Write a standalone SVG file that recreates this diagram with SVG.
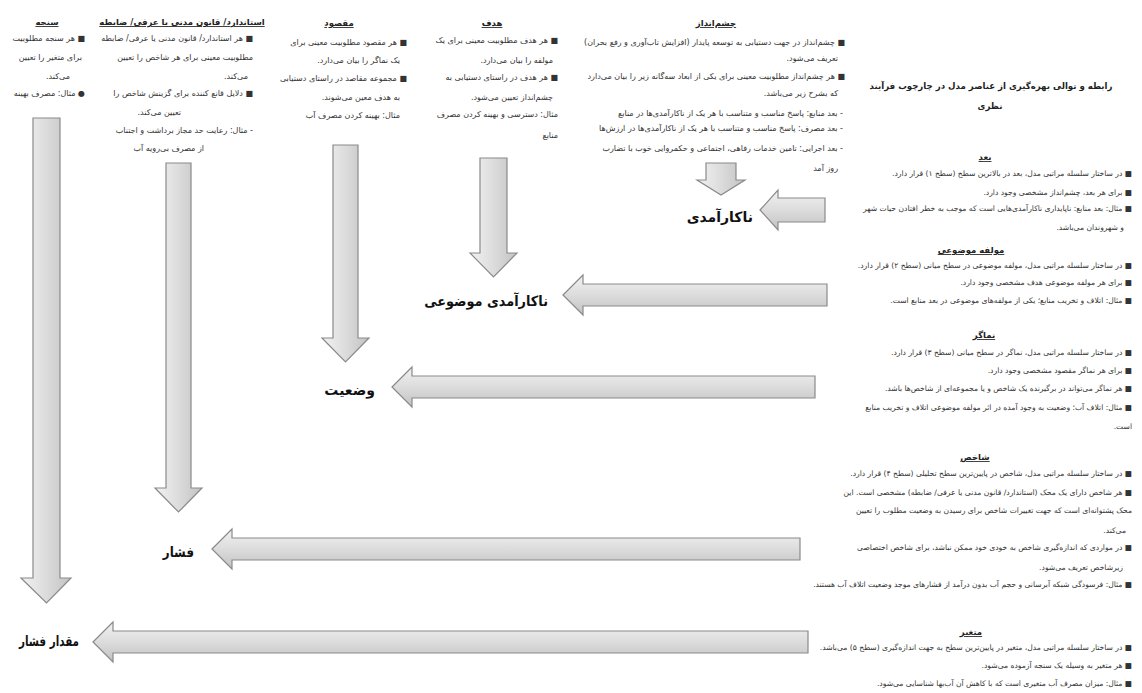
<svg xmlns="http://www.w3.org/2000/svg" width="1142" height="693" viewBox="0 0 1142 693">
<defs>
<linearGradient id="gh" x1="0" y1="0" x2="0" y2="1">
<stop offset="0" stop-color="#f2f2f2"/><stop offset="0.5" stop-color="#dcdcdc"/><stop offset="1" stop-color="#c2c2c2"/>
</linearGradient>
<linearGradient id="gv" x1="0" y1="0" x2="1" y2="0">
<stop offset="0" stop-color="#f2f2f2"/><stop offset="0.5" stop-color="#dcdcdc"/><stop offset="1" stop-color="#c2c2c2"/>
</linearGradient>
<style>
.t{font-family:"DejaVu Sans","Noto Sans",sans-serif;font-size:7.6px;fill:#333;direction:rtl;text-anchor:start}
.tc{font-family:"DejaVu Sans","Noto Sans",sans-serif;font-size:8px;fill:#333;direction:rtl;text-anchor:start}
.h{font-family:"DejaVu Sans","Noto Sans",sans-serif;font-size:8.5px;font-weight:bold;fill:#222;direction:rtl;text-anchor:middle;text-decoration:underline}
.ttl{font-family:"DejaVu Sans","Noto Sans",sans-serif;font-size:8.6px;font-weight:bold;fill:#222;direction:rtl;text-anchor:middle}
.lb{font-family:"DejaVu Sans","Noto Sans",sans-serif;font-size:14px;font-weight:bold;fill:#111;direction:rtl;text-anchor:start}
.ah{fill:url(#gh);stroke:#8a8a8a;stroke-width:1.2}
.av{fill:url(#gv);stroke:#8a8a8a;stroke-width:1.2}
</style>
</defs>
<rect width="1142" height="693" fill="#ffffff"/>

<g id="connectors">
<path class="av" d="M706 163 L736 163 L736 180 L745 180 L721 195 L697 180 L706 180 Z"/>
<path class="av" d="M480 158 L507 158 L507 253 L517 253 L493.5 277 L470 253 L480 253 Z"/>
<path class="av" d="M333 145 L358 145 L358 338 L369 338 L345.5 362 L322 338 L333 338 Z"/>
<path class="av" d="M166 163 L191 163 L191 488 L202 488 L178.5 512 L155 488 L166 488 Z"/>
<path class="av" d="M33 118 L60 118 L60 578 L71 578 L46.5 603 L21 578 L33 578 Z"/>
<path class="ah" d="M760 210 L778 190 L778 198 L825 198 L825 222 L778 222 L778 230 Z"/>
<path class="ah" d="M563 295 L583 275 L583 284 L827 284 L827 306 L583 306 L583 315 Z"/>
<path class="ah" d="M392 387 L412 367 L412 376 L815 376 L815 398 L412 398 L412 407 Z"/>
<path class="ah" d="M212 549 L232 529 L232 538 L800 538 L800 560 L232 560 L232 569 Z"/>
<path class="ah" d="M93 642 L113 622 L113 631 L808 631 L808 653 L113 653 L113 662 Z"/>
</g>

<g id="label-nakaramadi"><text class="lb" x="753" y="222">ناکارآمدی</text></g>
<g id="label-nakaramadi-mozui"><text class="lb" transform="translate(548,306) scale(0.92,1)" x="0" y="0">ناکارآمدی موضوعی</text></g>
<g id="label-vazeiat"><text class="lb" x="375" y="395">وضعیت</text></g>
<g id="label-feshar"><text class="lb" transform="translate(194,557) scale(0.85,1)" x="0" y="0">فشار</text></g>
<g id="label-meghdar-feshar"><text class="lb" transform="translate(79,646) scale(0.74,1)" x="0" y="0">مقدار فشار</text></g>

<g id="col-cheshmandaz">
<text class="h" x="716" y="26">چشم‌انداز</text>
<text class="tc" x="845" y="45">■ چشم‌انداز در جهت دستیابی به توسعه پایدار (افزایش تاب‌آوری و رفع بحران)</text>
<text class="tc" x="838" y="61">تعریف می‌شود.</text>
<text class="tc" x="845" y="79">■ هر چشم‌انداز مطلوبیت معینی برای یکی از ابعاد سه‌گانه زیر را بیان می‌دارد</text>
<text class="tc" x="838" y="96">که بشرح زیر می‌باشد.</text>
<text class="tc" x="843" y="116">- بعد منابع: پاسخ مناسب و متناسب با هر یک از ناکارآمدی‌ها در منابع</text>
<text class="tc" x="843" y="131">- بعد مصرف: پاسخ مناسب و متناسب با هر یک از ناکارآمدی‌ها در ارزش‌ها</text>
<text class="tc" x="843" y="151">- بعد اجرایی: تامین خدمات رفاهی، اجتماعی و حکمروایی خوب با تضارب</text>
<text class="tc" x="838" y="171">روز آمد</text>
</g>

<g id="col-hadaf">
<text class="h" x="492" y="26">هدف</text>
<text class="tc" x="558" y="43">■ هر هدف مطلوبیت معینی برای یک</text>
<text class="tc" x="553" y="63">مولفه را بیان می‌دارد.</text>
<text class="tc" x="558" y="80">■ هر هدف در راستای دستیابی به</text>
<text class="tc" x="553" y="100">چشم‌انداز تعیین می‌شود.</text>
<text class="tc" x="558" y="117">مثال: دسترسی و بهینه کردن مصرف</text>
<text class="tc" x="558" y="138">منابع</text>
</g>

<g id="col-maghsud">
<text class="h" x="339" y="26">مقصود</text>
<text class="tc" x="407" y="45">■ هر مقصود مطلوبیت معینی برای</text>
<text class="tc" x="400" y="63">یک نماگر را بیان می‌دارد.</text>
<text class="tc" x="407" y="81">■ مجموعه مقاصد در راستای دستیابی</text>
<text class="tc" x="400" y="100">به هدف معین می‌شوند.</text>
<text class="tc" x="400" y="118">مثال: بهینه کردن مصرف آب</text>
</g>

<g id="col-standard">
<text class="h" x="182" y="25">استاندارد/ قانون مدنی یا عرفی/ ضابطه</text>
<text class="tc" x="253" y="41">■ هر استاندارد/ قانون مدنی یا عرفی/ ضابطه</text>
<text class="tc" x="253" y="60">مطلوبیت معینی برای هر شاخص را تعیین</text>
<text class="tc" x="248" y="79">می‌کند.</text>
<text class="tc" x="253" y="96">■ دلایل قانع کننده برای گزینش شاخص را</text>
<text class="tc" x="181" y="115">تعیین می‌کند.</text>
<text class="tc" x="253" y="133">- مثال: رعایت حد مجاز برداشت و اجتناب</text>
<text class="tc" x="204" y="151">از مصرف بی‌رویه آب</text>
</g>

<g id="col-sanjeh">
<text class="h" x="47" y="25">سنجه</text>
<text class="tc" x="85" y="41">■ هر سنجه مطلوبیت</text>
<text class="tc" x="82" y="60">برای متغیر را تعیین</text>
<text class="tc" x="70" y="79">می‌کند.</text>
<text class="tc" x="85" y="96">● مثال: مصرف بهینه</text>
</g>

<g id="title">
<text class="ttl" x="991" y="89">رابطه و توالی بهره‌گیری از عناصر مدل در چارچوب فرآیند</text>
<text class="ttl" x="990" y="109">نظری</text>
</g>

<g id="sec-bod">
<text class="h" x="985" y="160">بعد</text>
<text class="t" x="1132" y="176">■ در ساختار سلسله مراتبی مدل، بعد در بالاترین سطح (سطح ۱) قرار دارد.</text>
<text class="t" x="1132" y="195">■ برای هر بعد، چشم‌انداز مشخصی وجود دارد.</text>
<text class="t" x="1132" y="211">■ مثال: بعد منابع: ناپایداری ناکارآمدی‌هایی است که موجب به خطر افتادن حیات شهر</text>
<text class="t" x="1124" y="230">و شهروندان می‌باشد.</text>
</g>

<g id="sec-molfeh">
<text class="h" x="971" y="253">مولفه موضوعی</text>
<text class="t" x="1132" y="268">■ در ساختار سلسله مراتبی مدل، مولفه موضوعی در سطح میانی (سطح ۲) قرار دارد.</text>
<text class="t" x="1132" y="285">■ برای هر مولفه موضوعی هدف مشخصی وجود دارد.</text>
<text class="t" x="1132" y="303">■ مثال: اتلاف و تخریب منابع؛ یکی از مولفه‌های موضوعی در بعد منابع است.</text>
</g>

<g id="sec-namagar">
<text class="h" x="984" y="338">نماگر</text>
<text class="t" x="1132" y="355">■ در ساختار سلسله مراتبی مدل، نماگر در سطح میانی (سطح ۳) قرار دارد.</text>
<text class="t" x="1132" y="373">■ برای هر نماگر مقصود مشخصی وجود دارد.</text>
<text class="t" x="1132" y="391">■ هر نماگر می‌تواند در برگیرنده یک شاخص و یا مجموعه‌ای از شاخص‌ها باشد.</text>
<text class="t" x="1132" y="410">■ مثال: اتلاف آب؛ وضعیت به وجود آمده در اثر مولفه موضوعی اتلاف و تخریب منابع</text>
<text class="t" x="1132" y="429">است.</text>
</g>

<g id="sec-shakhes">
<text class="h" x="975" y="460">شاخص</text>
<text class="t" x="1132" y="476">■ در ساختار سلسله مراتبی مدل، شاخص در پایین‌ترین سطح تحلیلی (سطح ۴) قرار دارد.</text>
<text class="t" x="1132" y="495">■ هر شاخص دارای یک محک (استاندارد/ قانون مدنی یا عرفی/ ضابطه) مشخصی است. این</text>
<text class="t" x="1132" y="513">محک پشتوانه‌ای است که جهت تغییرات شاخص برای رسیدن به وضعیت مطلوب را تعیین</text>
<text class="t" x="1126" y="533">می‌کند.</text>
<text class="t" x="1132" y="550">■ در مواردی که اندازه‌گیری شاخص به خودی خود ممکن نباشد، برای شاخص اختصاصی</text>
<text class="t" x="1123" y="570">زیرشاخص تعریف می‌شود.</text>
<text class="t" x="1132" y="587">■ مثال: فرسودگی شبکه آبرسانی و حجم آب بدون درآمد از فشارهای موجد وضعیت اتلاف آب هستند.</text>
</g>

<g id="sec-moteghayer">
<text class="h" x="971" y="635">متغیر</text>
<text class="t" x="1132" y="650">■ در ساختار سلسله مراتبی مدل، متغیر در پایین‌ترین سطح به جهت اندازه‌گیری (سطح ۵) می‌باشد.</text>
<text class="t" x="1132" y="668">■ هر متغیر به وسیله یک سنجه آزموده می‌شود.</text>
<text class="t" x="1132" y="686">■ مثال: میزان مصرف آب متغیری است که با کاهش آن آب‌بها شناسایی می‌شود.</text>
</g>
</svg>
